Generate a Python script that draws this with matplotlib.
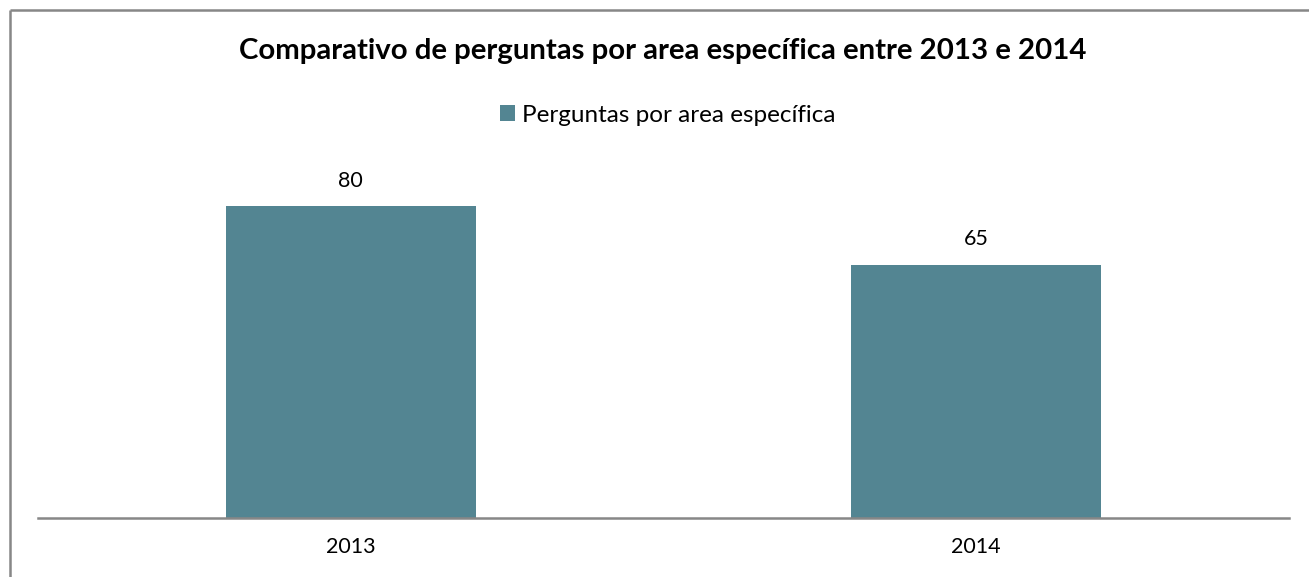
import matplotlib
matplotlib.use("Agg")
import matplotlib.pyplot as plt
from matplotlib.lines import Line2D

categories = ["2013", "2014"]
values = [80, 65]
series_name = "Perguntas por area específica"
title = "Comparativo de perguntas por area específica entre 2013 e 2014"

W, H = 1309, 577
fig = plt.figure(figsize=(W / 100, H / 100), dpi=100)
plt.rcParams['font.family'] = ['Lato', 'DejaVu Sans']

def fx(px):
    return px / W

def fy(py):
    return 1 - py / H

# chart border (top and left edges visible)
border = "#878787"
fig.add_artist(Line2D([fx(10), 1.0], [fy(10), fy(10)], transform=fig.transFigure,
                      color=border, linewidth=1.8, solid_capstyle="butt"))
fig.add_artist(Line2D([fx(10), fx(10)], [fy(10), 0.0], transform=fig.transFigure,
                      color=border, linewidth=1.8, solid_capstyle="butt"))

ax_left, ax_right = 38, 1289
ax_bottom, ax_top = 518, 147.5
ax = fig.add_axes([fx(ax_left), fy(ax_bottom), fx(ax_right - ax_left), fy(ax_top) - fy(ax_bottom)])
ax.set_xlim(-0.5, 1.5)
ax.set_ylim(0, 95)
color = "#538592"
bars = ax.bar(range(len(categories)), values, width=0.4, color=color, label=series_name)
for b, v in zip(bars, values):
    ax.annotate(f"{v}", (b.get_x() + b.get_width() / 2, v), xytext=(0, 11),
                textcoords="offset points", ha="center", va="bottom", fontsize=15.5, color="#000000")
ax.spines["top"].set_visible(False)
ax.spines["right"].set_visible(False)
ax.spines["left"].set_visible(False)
ax.spines["bottom"].set_color(border)
ax.spines["bottom"].set_linewidth(1.8)
ax.set_yticks([])
ax.set_xticks(range(len(categories)))
ax.set_xticklabels(categories, fontsize=15.5)
ax.tick_params(axis="x", length=0, pad=14)
ax.patch.set_visible(False)

fig.text(fx(663), fy(51), title, ha="center", va="center", fontsize=21.2, fontweight="bold")
leg = fig.legend(handles=[bars], labels=[series_name], loc="center", bbox_to_anchor=(fx(668), fy(115)),
                 frameon=False, fontsize=17.5, handlelength=0.6, handleheight=0.6, handletextpad=0.3)

fig.savefig("out.png", dpi=100, facecolor="white")
